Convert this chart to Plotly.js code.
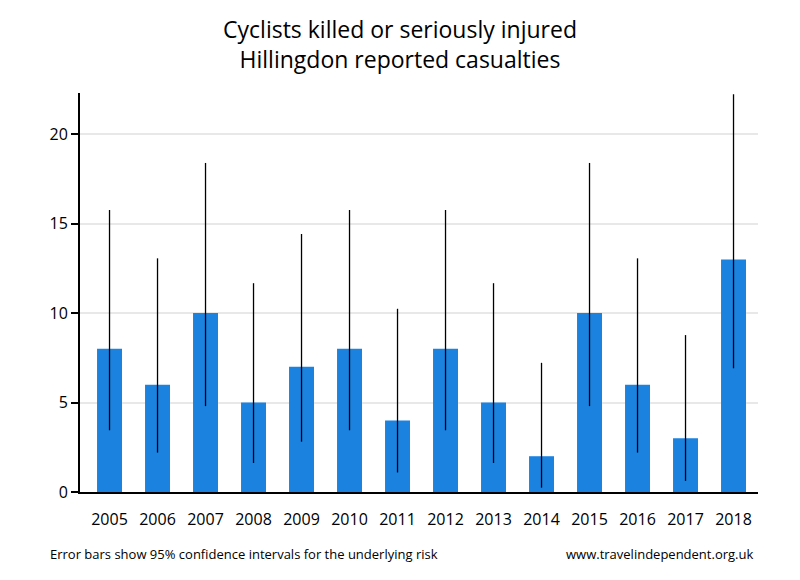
<!DOCTYPE html>
<html>
<head>
<meta charset="utf-8">
<script src="https://cdn.plot.ly/plotly-3.0.1.min.js"></script>
<style>body{margin:0;padding:0;background:#fff;}#chart{width:800px;height:580px;}</style>
</head>
<body>
<div id="chart"></div>
<script>
const years = ['2005','2006','2007','2008','2009','2010','2011','2012','2013','2014','2015','2016','2017','2018'];
const casualties = [8, 6, 10, 5, 7, 8, 4, 8, 5, 2, 10, 6, 3, 13];
const ciLower = [3.45, 2.20, 4.80, 1.62, 2.81, 3.45, 1.09, 3.45, 1.62, 0.24, 4.80, 2.20, 0.62, 6.92];
const ciUpper = [15.76, 13.06, 18.39, 11.67, 14.42, 15.76, 10.24, 15.76, 11.67, 7.22, 18.39, 13.06, 8.77, 22.23];
const yTicks = [0, 5, 10, 15, 20];

const errPlus = ciUpper.map((u, i) => u - casualties[i]);
const errMinus = casualties.map((v, i) => v - ciLower[i]);

const trace = {
  type: 'bar',
  x: years,
  y: casualties,
  width: 0.52,
  marker: {color: '#1c82e0', line: {width: 0}},
  error_y: {
    type: 'data', symmetric: false,
    array: errPlus, arrayminus: errMinus,
    color: '#000000', thickness: 1.3, width: 0
  },
  hoverinfo: 'x+y'
};

const font = "'Open Sans', 'Noto Sans', sans-serif";
const layout = {
  width: 800, height: 580,
  margin: {l: 80, r: 42, t: 93, b: 88},
  paper_bgcolor: '#ffffff', plot_bgcolor: '#ffffff',
  showlegend: false,
  title: {
    text: 'Cyclists killed or seriously injured<br>Hillingdon reported casualties',
    font: {family: font, size: 23, color: '#000'},
    x: 0.5, xanchor: 'center', y: 0.935, yanchor: 'top'
  },
  xaxis: {
    type: 'category',
    range: [-0.615, 13.51],
    showline: true, linecolor: '#000', linewidth: 2,
    ticks: '', showgrid: false, zeroline: false,
    ticklabelstandoff: 12,
    tickfont: {family: font, size: 16, color: '#000'}
  },
  yaxis: {
    range: [0, 22.3],
    tickvals: yTicks, ticktext: yTicks.map(String),
    showline: true, linecolor: '#000', linewidth: 2,
    ticks: 'outside', ticklen: 7, tickwidth: 2, tickcolor: '#000',
    showgrid: true, gridcolor: '#e8e8e8', gridwidth: 2,
    zeroline: false,
    tickfont: {family: font, size: 16, color: '#000'}
  },
  annotations: [
    {text: 'Error bars show 95% confidence intervals for the underlying risk', xref: 'paper', yref: 'paper',
     x: -0.0472, y: -0.155, xanchor: 'left', yanchor: 'middle', showarrow: false,
     font: {family: font, size: 13, color: '#000'}},
    {text: 'www.travelindependent.org.uk', xref: 'paper', yref: 'paper',
     x: 0.9956, y: -0.155, xanchor: 'right', yanchor: 'middle', showarrow: false,
     font: {family: font, size: 13, color: '#000'}}
  ]
};

Plotly.newPlot('chart', [trace], layout, {displayModeBar: false, staticPlot: true});
</script>
</body>
</html>
